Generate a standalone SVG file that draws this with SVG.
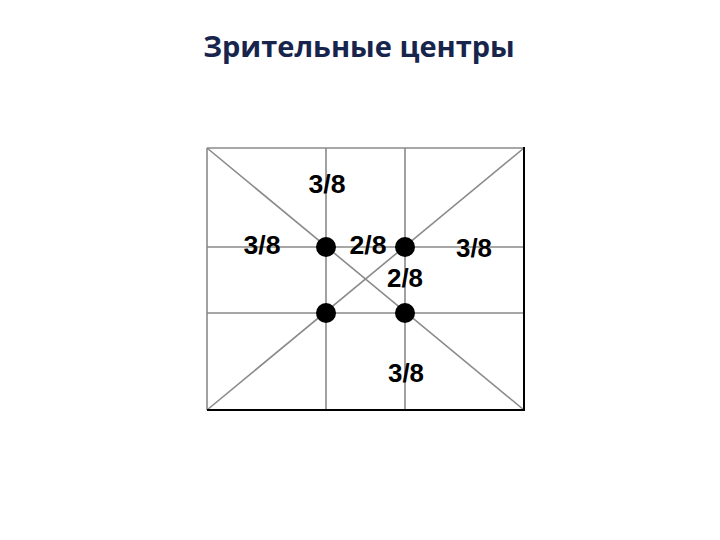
<svg xmlns="http://www.w3.org/2000/svg" width="720" height="540" viewBox="0 0 720 540">
<style>
.title{font-family:"Open Sans","Liberation Sans",sans-serif;font-weight:bold;font-size:29px;fill:#17254d;text-anchor:middle}
.lbl{font-family:"Liberation Sans",Arial,sans-serif;font-weight:bold;font-size:25px;fill:#000;text-anchor:middle}
.grid{stroke:#8a8a8a;stroke-width:1.6;fill:none}
.edge{stroke:#000;stroke-width:2;fill:none}
.dot{fill:#000}
</style>
<rect width="720" height="540" fill="#fff"/>
<text class="title" x="359" y="57">Зрительные центры</text>
<g id="connectors">
<line class="grid" x1="207" y1="148" x2="524" y2="148"/>
<line class="grid" x1="207" y1="148" x2="207" y2="410"/>
<line class="grid" x1="326" y1="148" x2="326" y2="410"/>
<line class="grid" x1="405" y1="148" x2="405" y2="410"/>
<line class="grid" x1="207" y1="247" x2="524" y2="247"/>
<line class="grid" x1="207" y1="313" x2="524" y2="313"/>
<line class="grid" x1="207" y1="148" x2="524" y2="410"/>
<line class="grid" x1="524" y1="148" x2="207" y2="410"/>
<line class="edge" x1="524" y1="147" x2="524" y2="411"/>
<line class="edge" x1="207" y1="410" x2="525" y2="410"/>
</g>
<g id="c1"><circle class="dot" cx="326" cy="247" r="10"/></g>
<g id="c2"><circle class="dot" cx="405" cy="247" r="10"/></g>
<g id="c3"><circle class="dot" cx="326" cy="313" r="10"/></g>
<g id="c4"><circle class="dot" cx="405" cy="313" r="10"/></g>
<g id="labels">
<text class="lbl" x="327" y="193" textLength="37" lengthAdjust="spacingAndGlyphs">3/8</text>
<text class="lbl" x="262" y="254" textLength="37" lengthAdjust="spacingAndGlyphs">3/8</text>
<text class="lbl" x="368" y="254" textLength="37" lengthAdjust="spacingAndGlyphs">2/8</text>
<text class="lbl" x="474" y="257" textLength="36" lengthAdjust="spacingAndGlyphs">3/8</text>
<text class="lbl" x="405" y="287" textLength="36" lengthAdjust="spacingAndGlyphs">2/8</text>
<text class="lbl" x="406" y="382" textLength="36" lengthAdjust="spacingAndGlyphs">3/8</text>
</g>
</svg>
